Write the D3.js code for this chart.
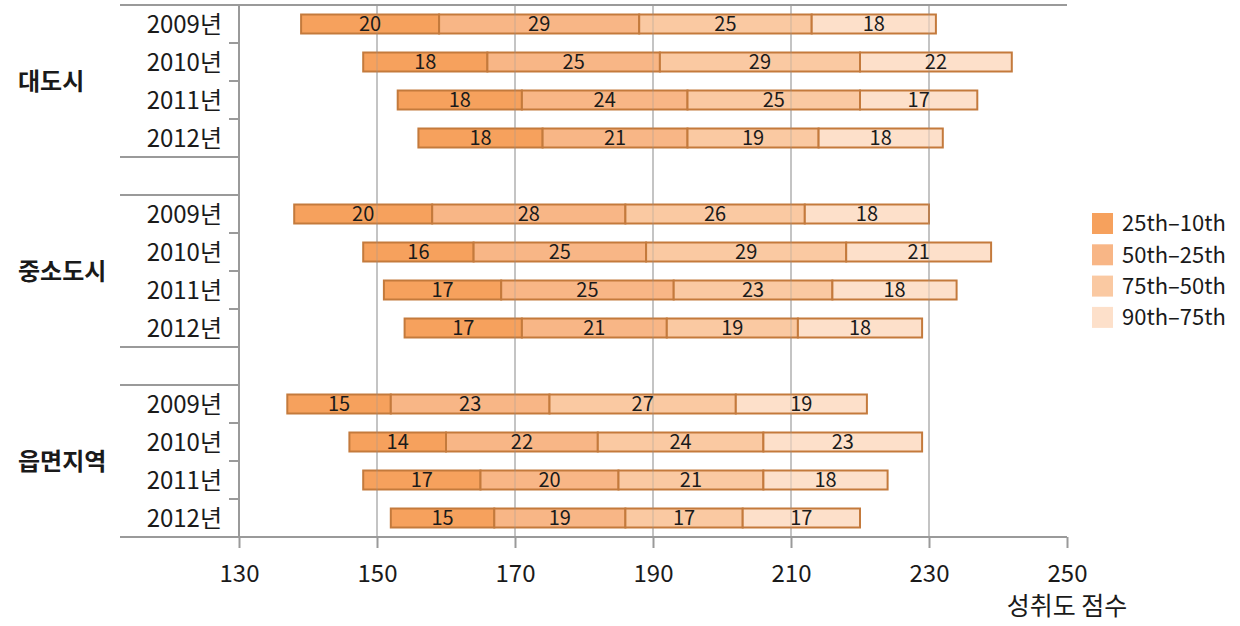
<!DOCTYPE html>
<html>
<head>
<meta charset="utf-8">
<script src="https://cdn.jsdelivr.net/npm/d3@7"></script>
<style>
  body { margin: 0; background: #fff; }
  text { font-family: "Noto Sans CJK KR", "Noto Sans", sans-serif; fill: #1a1a1a; }
</style>
</head>
<body>
<svg id="chart" width="1240" height="626"></svg>
<script>
// data
let groups = ["대도시", "중소도시", "읍면지역"];
let years = ["2009년", "2010년", "2011년", "2012년"];
let seriesNames = ["25th–10th", "50th–25th", "75th–50th", "90th–75th"];

// where each bar begins (10th percentile score)
let starts = [
    [139, 148, 153, 156],
    [138, 148, 151, 154],
    [137, 146, 148, 152]
];
// segment widths per group / year
let segments = [
    [[20, 29, 25, 18], [18, 25, 29, 22], [18, 24, 25, 17], [18, 21, 19, 18]],
    [[20, 28, 26, 18], [16, 25, 29, 21], [17, 25, 23, 18], [17, 21, 19, 18]],
    [[15, 23, 27, 19], [14, 22, 24, 23], [17, 20, 21, 18], [15, 19, 17, 17]]
];
let xTicks = [130, 150, 170, 190, 210, 230, 250];

let colors = ["#f6a15d", "#f8b686", "#fac9a2", "#fde0ca"];
let barStroke = "#c47a3c";

const svg = d3.select("#chart");

let plotLeft = 239, plotRight = 1067, plotTop = 5, plotBottom = 537;

let x = d3.scaleLinear().domain([130, 250]).range([plotLeft, plotRight]);

// 14 bands: 4 years + spacer for each group
let rowKeys = [];
groups.forEach((g, gi) => {
    years.forEach(yr => rowKeys.push(g + "|" + yr));
    if (gi < groups.length - 1) rowKeys.push("gap" + gi);
});
let y = d3.scaleBand().domain(rowKeys).range([plotTop, plotBottom]);
let barH = 19;

// flatten into bar records
let bars = [];
groups.forEach((g, gi) => {
    years.forEach((yr, yi) => {
        let s = starts[gi][yi];
        segments[gi][yi].forEach((v, si) => {
            bars.push({key: g + "|" + yr, x0: s, x1: s + v, v: v, si: si});
            s += v;
        });
    });
});

// grid lines (under)
svg.append("g").selectAll("line")
    .data(xTicks.slice(1, -1))
    .join("line")
    .attr("x1", d => x(d)).attr("x2", d => x(d))
    .attr("y1", plotTop).attr("y2", plotBottom)
    .attr("stroke", "#c2c2c2").attr("stroke-width", 1.5);

// bars
svg.append("g").selectAll("rect")
    .data(bars)
    .join("rect")
    .attr("x", d => x(d.x0))
    .attr("y", d => y(d.key) + (y.bandwidth() - barH) / 2)
    .attr("width", d => x(d.x1) - x(d.x0))
    .attr("height", barH)
    .attr("fill", d => colors[d.si])
    .attr("stroke", barStroke)
    .attr("stroke-width", 2);

// faint grid lines over bars
svg.append("g").selectAll("line")
    .data(xTicks.slice(1, -1))
    .join("line")
    .attr("x1", d => x(d)).attr("x2", d => x(d))
    .attr("y1", plotTop).attr("y2", plotBottom)
    .attr("stroke", "#999").attr("stroke-width", 1.5)
    .attr("opacity", 0.3);

// segment labels
svg.append("g").selectAll("text")
    .data(bars)
    .join("text")
    .attr("x", d => x((d.x0 + d.x1) / 2))
    .attr("y", d => y(d.key) + y.bandwidth() / 2)
    .attr("dy", "0.36em")
    .attr("text-anchor", "middle")
    .style("font-size", "20px")
    .text(d => d.v);

// frame lines
let axisColor = "#9a9a9a";
svg.append("line")
    .attr("x1", 120).attr("x2", plotRight).attr("y1", plotTop).attr("y2", plotTop)
    .attr("stroke", axisColor).attr("stroke-width", 2);
svg.append("line")
    .attr("x1", plotLeft).attr("x2", plotLeft).attr("y1", plotTop).attr("y2", plotBottom)
    .attr("stroke", axisColor).attr("stroke-width", 2);

// group separators on the left axis
let sepYs = [];
groups.forEach((g, gi) => {
    if (gi < groups.length - 1) {
        sepYs.push(y("gap" + gi));
        sepYs.push(y("gap" + gi) + y.bandwidth());
    }
});
svg.append("g").selectAll("line")
    .data(sepYs)
    .join("line")
    .attr("x1", 120).attr("x2", plotLeft).attr("y1", d => d).attr("y2", d => d)
    .attr("stroke", axisColor).attr("stroke-width", 2);

// small ticks between years
let minorYs = [];
groups.forEach(g => {
    years.slice(1).forEach(yr => minorYs.push(y(g + "|" + yr)));
});
svg.append("g").selectAll("line")
    .data(minorYs)
    .join("line")
    .attr("x1", plotLeft - 10).attr("x2", plotLeft).attr("y1", d => d).attr("y2", d => d)
    .attr("stroke", axisColor).attr("stroke-width", 2);

// year labels
svg.append("g").selectAll("text")
    .data(rowKeys.filter(k => k.indexOf("|") > 0))
    .join("text")
    .attr("x", 222)
    .attr("y", d => y(d) + y.bandwidth() / 2)
    .attr("dy", "0.36em")
    .attr("text-anchor", "end")
    .style("font-size", "24px")
    .text(d => d.split("|")[1]);

// group labels
svg.append("g").selectAll("text")
    .data(groups)
    .join("text")
    .attr("x", 18)
    .attr("y", g => y(g + "|" + years[1]) + y.bandwidth())
    .attr("dy", "0.36em")
    .style("font-size", "24px")
    .style("font-weight", "bold")
    .text(d => d);

// bottom axis
let xAxis = d3.axisBottom(x)
    .tickValues(xTicks)
    .tickSize(11)
    .tickPadding(17)
    .tickSizeOuter(0);
let gx = svg.append("g")
    .attr("transform", `translate(0,${plotBottom})`)
    .call(xAxis);
gx.select(".domain").remove();
gx.selectAll(".tick line").attr("stroke", axisColor).attr("stroke-width", 2);
gx.selectAll(".tick text")
    .style("font-size", "24px")
    .style("font-family", "'Noto Sans CJK KR', sans-serif")
    .attr("fill", "#1a1a1a");
svg.append("line")
    .attr("x1", 120).attr("x2", plotRight).attr("y1", plotBottom).attr("y2", plotBottom)
    .attr("stroke", axisColor).attr("stroke-width", 2);

svg.append("text")
    .attr("x", plotRight)
    .attr("y", 615)
    .attr("text-anchor", "middle")
    .style("font-size", "25px")
    .text("성취도 점수");

// legend
let legend = svg.append("g").attr("transform", "translate(1092,213)");
let item = legend.selectAll("g")
    .data(seriesNames)
    .join("g")
    .attr("transform", (d, i) => `translate(0,${i * 31.3})`);
item.append("rect")
    .attr("width", 21).attr("height", 21)
    .attr("fill", (d, i) => colors[i]);
item.append("text")
    .attr("x", 30).attr("y", 10.5)
    .attr("dy", "0.36em")
    .style("font-size", "22px")
    .text(d => d);
</script>
</body>
</html>
